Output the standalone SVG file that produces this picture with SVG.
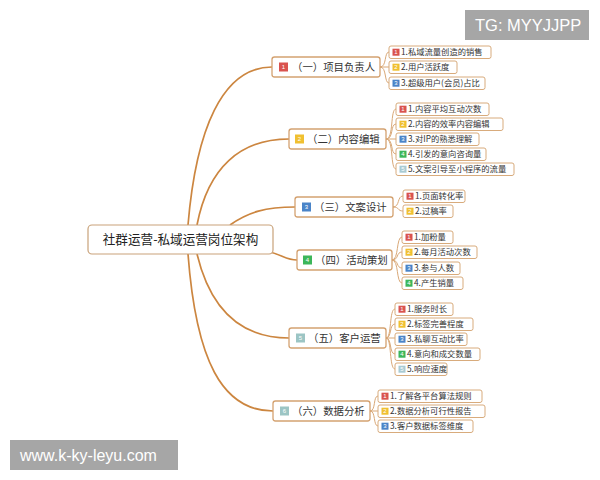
<svg xmlns="http://www.w3.org/2000/svg" width="600" height="480" viewBox="0 0 600 480">
<style>
text{font-family:"Noto Sans CJK SC","Liberation Sans",sans-serif}
.root{fill:#fff;stroke:#c9a27a;stroke-width:1.2}
.rt{font-size:12.6px;fill:#222}
.br{fill:#fff;stroke:#d4a271;stroke-width:1.3}
.bt{font-size:10.4px;fill:#333}
.lf{fill:#fff;stroke:#d8ab7c;stroke-width:1}
.lt{font-size:8.3px;fill:#333}
.bd{font-size:6px;fill:#fff;text-anchor:middle;font-family:"Liberation Sans",sans-serif}
.c1{fill:#d9534f}.c2{fill:#f0c030}.c3{fill:#4a84c8}.c4{fill:#3cb65a}.c5{fill:#a9cbd3}.c6{fill:#9cc5c4}
.mc{fill:none;stroke:#cc8640;stroke-width:1.7}
.sc{fill:none;stroke:#d9a877;stroke-width:1}
.wm{font-family:"Liberation Sans",sans-serif;fill:#fff}
</style>
<rect width="600" height="480" fill="#fff"/>
<g id="connectors">
<path class="mc" d="M188,225 C196,130 222,67 272,67"/>
<path class="mc" d="M197,225 C208,168 240,139 289,139"/>
<path class="mc" d="M230,225 C248,212 266,207 295,207"/>
<path class="mc" d="M270,252 C282,255 287,260 297,260"/>
<path class="mc" d="M197,254 C210,308 240,338 289,338"/>
<path class="mc" d="M188,254 C196,360 222,411 273,411"/>
<path class="sc" d="M380,67 C387,67 384,52 389,52"/>
<path class="sc" d="M380,67 L389,67"/>
<path class="sc" d="M380,67 C387,67 384,83 389,83"/>
<path class="sc" d="M386,139 C394,139 390,109 396,109"/>
<path class="sc" d="M386,139 C394,139 390,124 396,124"/>
<path class="sc" d="M386,139 L396,139"/>
<path class="sc" d="M386,139 C394,139 390,154 396,154"/>
<path class="sc" d="M386,139 C394,139 390,169 396,169"/>
<path class="sc" d="M393,207 C400,207 397,196 403,196"/>
<path class="sc" d="M393,207 C400,207 397,211 403,211"/>
<path class="sc" d="M392,260 C399,260 396,237 402,237"/>
<path class="sc" d="M392,260 C399,260 396,252 402,252"/>
<path class="sc" d="M392,260 C399,260 396,268 402,268"/>
<path class="sc" d="M392,260 C399,260 396,283 402,283"/>
<path class="sc" d="M386,338 C392,338 389,309 395,309"/>
<path class="sc" d="M386,338 C392,338 389,324 395,324"/>
<path class="sc" d="M386,338 L395,338"/>
<path class="sc" d="M386,338 C392,338 389,354 395,354"/>
<path class="sc" d="M386,338 C392,338 389,369 395,369"/>
<path class="sc" d="M370,411 C376,411 373,396 378,396"/>
<path class="sc" d="M370,411 L378,411"/>
<path class="sc" d="M370,411 C376,411 373,426 378,426"/>
</g>
<g id="root">
<rect class="root" x="88" y="225" width="185" height="29" rx="4"/>
<text class="rt" x="180.5" y="244.3" text-anchor="middle">社群运营-私域运营岗位架构</text>
</g>
<g id="b1">
<rect class="br" x="272" y="57" width="108" height="20" rx="2.5"/>
<rect class="c1" x="279" y="62.5" width="9" height="9"/><text class="bd" x="283.5" y="69.2">1</text>
<text class="bt" x="292" y="70.8">（一）项目负责人</text>
</g>
<g id="b1-1"><rect class="lf" x="389" y="46" width="102" height="12.5" rx="2"/><rect class="c1" x="392.5" y="48.7" width="7" height="7"/><text class="bd" x="396" y="54.3">1</text><text class="lt" x="401" y="55.3">1.私域流量创造的销售</text></g>
<g id="b1-2"><rect class="lf" x="389" y="61" width="68" height="12.5" rx="2"/><rect class="c2" x="392.5" y="63.7" width="7" height="7"/><text class="bd" x="396" y="69.3">2</text><text class="lt" x="401" y="70.3">2.用户活跃度</text></g>
<g id="b1-3"><rect class="lf" x="389" y="77" width="96" height="12.5" rx="2"/><rect class="c3" x="392.5" y="79.7" width="7" height="7"/><text class="bd" x="396" y="85.3">3</text><text class="lt" x="401" y="86.3">3.超级用户(会员)占比</text></g>
<g id="b2">
<rect class="br" x="289" y="129" width="97" height="20" rx="2.5"/>
<rect class="c2" x="295" y="134.5" width="9" height="9"/><text class="bd" x="299.5" y="141.2">2</text>
<text class="bt" x="307" y="142.8">（二）内容编辑</text>
</g>
<g id="b2-1"><rect class="lf" x="396" y="103" width="93" height="12.5" rx="2"/><rect class="c1" x="399.5" y="105.7" width="7" height="7"/><text class="bd" x="403" y="111.3">1</text><text class="lt" x="408" y="112.3">1.内容平均互动次数</text></g>
<g id="b2-2"><rect class="lf" x="396" y="118" width="107" height="12.5" rx="2"/><rect class="c2" x="399.5" y="120.7" width="7" height="7"/><text class="bd" x="403" y="126.3">2</text><text class="lt" x="408" y="127.3">2.内容的效率内容编辑</text></g>
<g id="b2-3"><rect class="lf" x="396" y="133" width="83" height="12.5" rx="2"/><rect class="c3" x="399.5" y="135.7" width="7" height="7"/><text class="bd" x="403" y="141.3">3</text><text class="lt" x="408" y="142.3">3.对IP的熟悉理解</text></g>
<g id="b2-4"><rect class="lf" x="396" y="148" width="90" height="12.5" rx="2"/><rect class="c4" x="399.5" y="150.7" width="7" height="7"/><text class="bd" x="403" y="156.3">4</text><text class="lt" x="408" y="157.3">4.引发的意向咨询量</text></g>
<g id="b2-5"><rect class="lf" x="396" y="163" width="118" height="12.5" rx="2"/><rect class="c5" x="399.5" y="165.7" width="7" height="7"/><text class="bd" x="403" y="171.3">5</text><text class="lt" x="408" y="172.3">5.文案引导至小程序的流量</text></g>
<g id="b3">
<rect class="br" x="295" y="197" width="98" height="20" rx="2.5"/>
<rect class="c3" x="302" y="202.5" width="9" height="9"/><text class="bd" x="306.5" y="209.2">3</text>
<text class="bt" x="314" y="210.8">（三）文案设计</text>
</g>
<g id="b3-1"><rect class="lf" x="403" y="190" width="62" height="12.5" rx="2"/><rect class="c1" x="406.5" y="192.7" width="7" height="7"/><text class="bd" x="410" y="198.3">1</text><text class="lt" x="415" y="199.3">1.页面转化率</text></g>
<g id="b3-2"><rect class="lf" x="403" y="205" width="50" height="12.5" rx="2"/><rect class="c2" x="406.5" y="207.7" width="7" height="7"/><text class="bd" x="410" y="213.3">2</text><text class="lt" x="415" y="214.3">2.过稿率</text></g>
<g id="b4">
<rect class="br" x="297" y="250" width="95" height="20" rx="2.5"/>
<rect class="c4" x="303" y="255.5" width="9" height="9"/><text class="bd" x="307.5" y="262.2">4</text>
<text class="bt" x="315" y="263.8">（四）活动策划</text>
</g>
<g id="b4-1"><rect class="lf" x="402" y="231" width="51" height="12.5" rx="2"/><rect class="c1" x="405.5" y="233.7" width="7" height="7"/><text class="bd" x="409" y="239.3">1</text><text class="lt" x="414" y="240.3">1.加粉量</text></g>
<g id="b4-2"><rect class="lf" x="402" y="246" width="75" height="12.5" rx="2"/><rect class="c2" x="405.5" y="248.7" width="7" height="7"/><text class="bd" x="409" y="254.3">2</text><text class="lt" x="414" y="255.3">2.每月活动次数</text></g>
<g id="b4-3"><rect class="lf" x="402" y="262" width="58" height="12.5" rx="2"/><rect class="c3" x="405.5" y="264.7" width="7" height="7"/><text class="bd" x="409" y="270.3">3</text><text class="lt" x="414" y="271.3">3.参与人数</text></g>
<g id="b4-4"><rect class="lf" x="402" y="277" width="61" height="12.5" rx="2"/><rect class="c4" x="405.5" y="279.7" width="7" height="7"/><text class="bd" x="409" y="285.3">4</text><text class="lt" x="414" y="286.3">4.产生销量</text></g>
<g id="b5">
<rect class="br" x="289" y="328" width="97" height="20" rx="2.5"/>
<rect class="c6" x="296" y="333.5" width="9" height="9"/><text class="bd" x="300.5" y="340.2">5</text>
<text class="bt" x="308" y="341.8">（五）客户运营</text>
</g>
<g id="b5-1"><rect class="lf" x="395" y="303" width="58" height="12.5" rx="2"/><rect class="c1" x="398.5" y="305.7" width="7" height="7"/><text class="bd" x="402" y="311.3">1</text><text class="lt" x="407" y="312.3">1.服务时长</text></g>
<g id="b5-2"><rect class="lf" x="395" y="318" width="78" height="12.5" rx="2"/><rect class="c2" x="398.5" y="320.7" width="7" height="7"/><text class="bd" x="402" y="326.3">2</text><text class="lt" x="407" y="327.3">2.标签完善程度</text></g>
<g id="b5-3"><rect class="lf" x="395" y="333" width="72" height="12.5" rx="2"/><rect class="c3" x="398.5" y="335.7" width="7" height="7"/><text class="bd" x="402" y="341.3">3</text><text class="lt" x="407" y="342.3">3.私聊互动比率</text></g>
<g id="b5-4"><rect class="lf" x="395" y="348" width="85" height="12.5" rx="2"/><rect class="c4" x="398.5" y="350.7" width="7" height="7"/><text class="bd" x="402" y="356.3">4</text><text class="lt" x="407" y="357.3">4.意向和成交数量</text></g>
<g id="b5-5"><rect class="lf" x="395" y="363" width="52" height="12.5" rx="2"/><rect class="c5" x="398.5" y="365.7" width="7" height="7"/><text class="bd" x="402" y="371.3">5</text><text class="lt" x="407" y="372.3">5.响应速度</text></g>
<g id="b6">
<rect class="br" x="273" y="401" width="97" height="20" rx="2.5"/>
<rect class="c6" x="280" y="406.5" width="9" height="9"/><text class="bd" x="284.5" y="413.2">6</text>
<text class="bt" x="292" y="414.8">（六）数据分析</text>
</g>
<g id="b6-1"><rect class="lf" x="378" y="390" width="104" height="12.5" rx="2"/><rect class="c1" x="381.5" y="392.7" width="7" height="7"/><text class="bd" x="385" y="398.3">1</text><text class="lt" x="390" y="399.3">1.了解各平台算法规则</text></g>
<g id="b6-2"><rect class="lf" x="378" y="405" width="107" height="12.5" rx="2"/><rect class="c2" x="381.5" y="407.7" width="7" height="7"/><text class="bd" x="385" y="413.3">2</text><text class="lt" x="390" y="414.3">2.数据分析可行性报告</text></g>
<g id="b6-3"><rect class="lf" x="378" y="420" width="95" height="12.5" rx="2"/><rect class="c3" x="381.5" y="422.7" width="7" height="7"/><text class="bd" x="385" y="428.3">3</text><text class="lt" x="390" y="429.3">3.客户数据标签维度</text></g>
<g id="tg">
<rect x="465" y="10" width="124" height="30" fill="#a6a6a6"/>
<text class="wm" x="475" y="31" font-size="16.5">TG: MYYJJPP</text>
</g>
<g id="site">
<rect x="10" y="440" width="168" height="30" fill="#a6a6a6"/>
<text class="wm" x="20" y="461" font-size="16">www.k-ky-leyu.com</text>
</g>
</svg>
